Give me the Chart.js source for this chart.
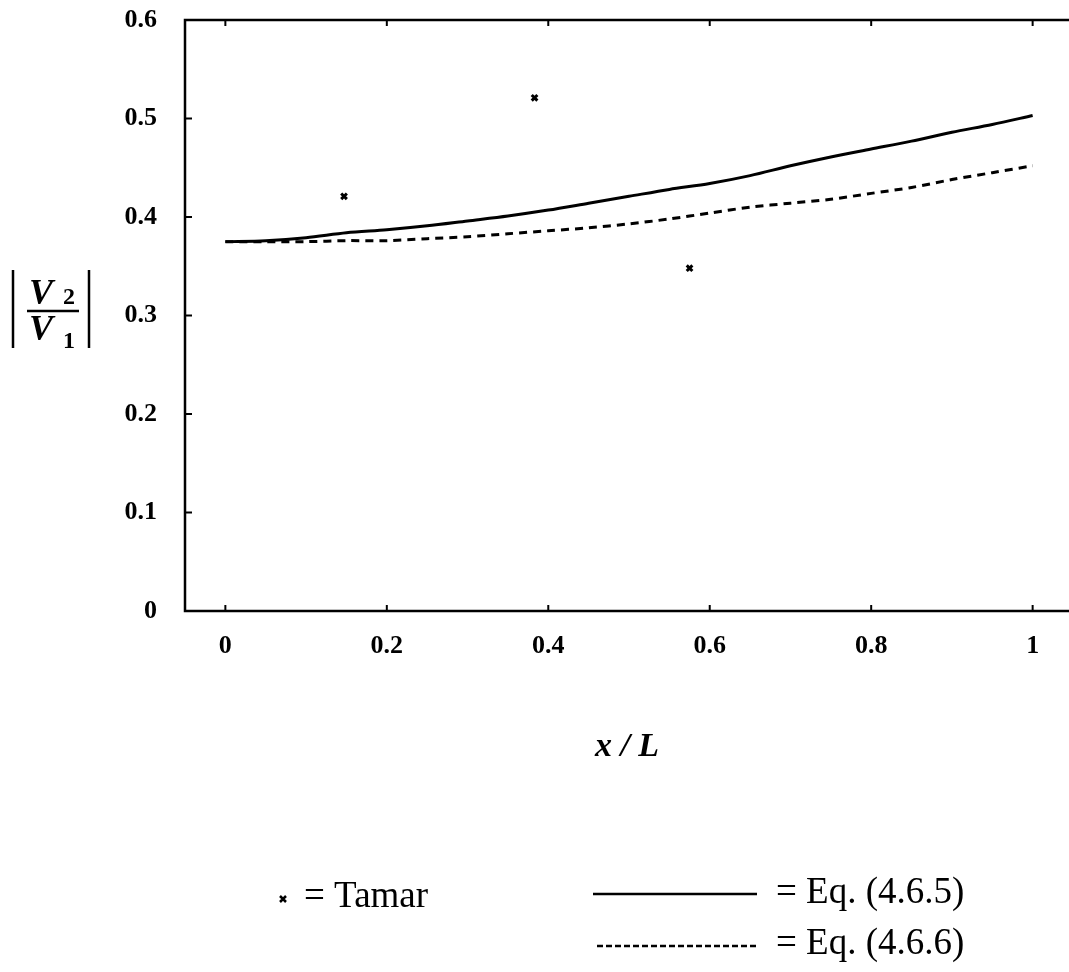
<!DOCTYPE html>
<html>
<head>
<meta charset="utf-8">
<script src="https://cdn.jsdelivr.net/npm/chart.js@4/dist/chart.umd.min.js"></script>
<style>
html,body{margin:0;padding:0;background:#fff;overflow:hidden;}
#wrap{width:1080px;height:972px;}
</style>
</head>
<body>
<div id="wrap"><canvas id="c" width="1080" height="972"></canvas></div>
<script>
// ---- data ----
const xTicks = [0, 0.2, 0.4, 0.6, 0.8, 1];
const yTicks = [0, 0.1, 0.2, 0.3, 0.4, 0.5, 0.6];
const curveX = [0, 0.05, 0.1, 0.15, 0.2, 0.25, 0.3, 0.35, 0.4, 0.45, 0.5, 0.55, 0.6, 0.65, 0.7, 0.75, 0.8, 0.85, 0.9, 0.95, 1.0];
const eq465 = [0.375, 0.376, 0.379, 0.384, 0.387, 0.391, 0.396, 0.401, 0.407, 0.414, 0.421, 0.428, 0.434, 0.442, 0.452, 0.461, 0.469, 0.477, 0.486, 0.494, 0.503];
const eq466 = [0.375, 0.375, 0.375, 0.376, 0.376, 0.378, 0.380, 0.383, 0.386, 0.389, 0.393, 0.398, 0.404, 0.410, 0.414, 0.418, 0.424, 0.430, 0.438, 0.445, 0.452];
const tamarX = [0.147, 0.383, 0.575];
const tamarY = [0.421, 0.521, 0.348];

const SERIF = '"Liberation Serif", "DejaVu Serif", serif';

function pts(xs, ys){ return xs.map((x,i)=>({x:x, y:ys[i]})); }

const decor = {
  id: 'decor',
  afterDraw(chart){
    const ctx = chart.ctx, a = chart.chartArea;
    const xs = chart.scales.x, ys = chart.scales.y;
    ctx.save();
    ctx.strokeStyle = '#000';
    ctx.lineWidth = 2.5;
    ctx.strokeRect(a.left, a.top, a.right - a.left, a.bottom - a.top);
    ctx.lineWidth = 2;
    // inward ticks
    yTicks.forEach(v => {
      const y = ys.getPixelForValue(v);
      ctx.beginPath(); ctx.moveTo(a.left, y); ctx.lineTo(a.left + 7, y); ctx.stroke();
    });
    xTicks.forEach(v => {
      const x = xs.getPixelForValue(v);
      ctx.beginPath(); ctx.moveTo(x, a.bottom); ctx.lineTo(x, a.bottom - 6); ctx.stroke();
      ctx.beginPath(); ctx.moveTo(x, a.top); ctx.lineTo(x, a.top + 6); ctx.stroke();
    });
    // x axis title
    ctx.fillStyle = '#000';
    ctx.font = 'italic bold 34px ' + SERIF;
    ctx.textAlign = 'center'; ctx.textBaseline = 'alphabetic';
    ctx.fillText('x / L', 627, 756);
    // y axis title |V2/V1|
    ctx.lineWidth = 2.5;
    ctx.beginPath(); ctx.moveTo(13, 270); ctx.lineTo(13, 348); ctx.stroke();
    ctx.beginPath(); ctx.moveTo(89, 270); ctx.lineTo(89, 348); ctx.stroke();
    ctx.lineWidth = 2.5;
    ctx.beginPath(); ctx.moveTo(27, 311); ctx.lineTo(79, 311); ctx.stroke();
    ctx.textAlign = 'left';
    ctx.font = 'italic bold 36px ' + SERIF;
    ctx.fillText('V', 29, 304);
    ctx.fillText('V', 29, 340);
    ctx.font = 'bold 24px ' + SERIF;
    ctx.fillText('2', 63, 304);
    ctx.fillText('1', 63, 348);
    // legend
    ctx.font = '37px ' + SERIF;
    ctx.textBaseline = 'middle';
    ctx.fillText('= Tamar', 304, 897);
    ctx.fillText('= Eq. (4.6.5)', 776, 893);
    ctx.fillText('= Eq. (4.6.6)', 776, 944);
    // legend marker
    ctx.lineWidth = 2.5;
    ctx.beginPath();
    ctx.moveTo(280, 896); ctx.lineTo(286, 902);
    ctx.moveTo(286, 896); ctx.lineTo(280, 902);
    ctx.stroke();
    // legend lines
    ctx.lineWidth = 2.5;
    ctx.beginPath(); ctx.moveTo(593, 894); ctx.lineTo(757, 894); ctx.stroke();
    ctx.setLineDash([6, 3]);
    ctx.beginPath(); ctx.moveTo(597, 946); ctx.lineTo(757, 946); ctx.stroke();
    ctx.setLineDash([]);
    ctx.restore();
  }
};

new Chart(document.getElementById('c'), {
  type: 'scatter',
  data: {
    datasets: [
      { label: 'Eq. (4.6.5)', data: pts(curveX, eq465), showLine: true, borderColor: '#000', borderWidth: 3, pointRadius: 0, tension: 0.3 },
      { label: 'Eq. (4.6.6)', data: pts(curveX, eq466), showLine: true, borderColor: '#000', borderWidth: 3, borderDash: [8, 6], pointRadius: 0, tension: 0.3 },
      { label: 'Tamar', data: pts(tamarX, tamarY), showLine: false, pointStyle: 'crossRot', pointRadius: 4, borderColor: '#000', backgroundColor: '#000', pointBorderWidth: 3 }
    ]
  },
  options: {
    responsive: false,
    animation: false,
    layout: { padding: { left: 0, right: 5, top: 20, bottom: 0 } },
    plugins: { legend: { display: false }, tooltip: { enabled: false } },
    scales: {
      x: {
        type: 'linear', min: -0.05, max: 1.05,
        afterBuildTicks: s => { s.ticks = xTicks.map(v => ({ value: v })); },
        afterFit: s => { s.height = 361; s.paddingLeft = 0; s.paddingRight = 0; },
        grid: { display: false, drawTicks: false },
        border: { display: false },
        ticks: { padding: 20, color: '#000', font: { family: SERIF, size: 26, weight: 'bold' },
          callback: v => String(v) }
      },
      y: {
        type: 'linear', min: 0, max: 0.6,
        afterBuildTicks: s => { s.ticks = yTicks.map(v => ({ value: v })); },
        afterFit: s => { s.width = 185; s.paddingTop = 0; s.paddingBottom = 0; },
        grid: { display: false, drawTicks: false },
        border: { display: false },
        ticks: { padding: 28, color: '#000', font: { family: SERIF, size: 26, weight: 'bold' },
          callback: v => String(v) }
      }
    }
  },
  plugins: [decor]
});
</script>
</body>
</html>
